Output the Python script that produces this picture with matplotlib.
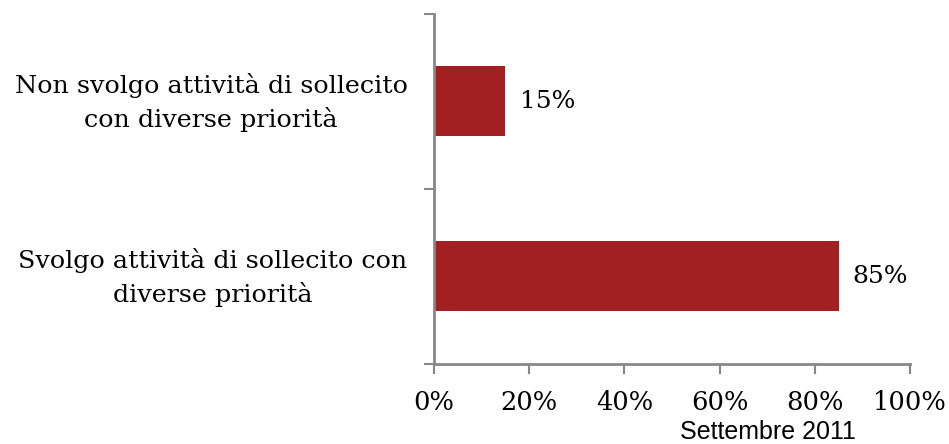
import matplotlib.pyplot as plt
import matplotlib.transforms as mtransforms
from matplotlib.ticker import FixedLocator, PercentFormatter

categories = ["Non svolgo attività di sollecito\ncon diverse priorità",
              "Svolgo attività di sollecito con\ndiverse priorità"]
values = [15, 85]
xticks = [0, 20, 40, 60, 80, 100]
note = "Settembre 2011"

bar_color = "#A21F22"
axis_color = "#878787"

fig = plt.figure(figsize=(9.49, 4.44), dpi=100)
ax = fig.add_axes([0.4573, 0.1802, 0.5016, 0.7883])

pos = list(range(len(categories)))
bars = ax.barh(pos, values, height=0.4, color=bar_color, edgecolor="none")
ax.set_ylim(len(categories) - 0.5, -0.5)
ax.set_xlim(0, 100)

for y, v in zip(pos, values):
    ax.text(v + 3, y, f"{v}%", va="center", ha="left",
            family="DejaVu Serif", fontsize=18, color="black")

# category labels at centres, tick marks at the boundaries
ax.set_yticks(pos)
ax.set_yticklabels(categories, family="DejaVu Serif", fontsize=18.3,
                   multialignment="center", linespacing=1.45)
ax.tick_params(axis="y", which="major", length=0, pad=19)
lift = mtransforms.ScaledTranslation(0, 4 / 72, fig.dpi_scale_trans)
for lab in ax.get_yticklabels():
    lab.set_transform(lab.get_transform() + lift)
ax.yaxis.set_minor_locator(FixedLocator([-0.5, 0.5, 1.5]))
ax.tick_params(axis="y", which="minor", length=7, width=1.5, color=axis_color)

ax.set_xticks(xticks)
ax.xaxis.set_major_formatter(PercentFormatter(decimals=0))
ax.tick_params(axis="x", length=7, width=1.5, color=axis_color, pad=12,
               labelsize=18.5)
for lab in ax.get_xticklabels():
    lab.set_family("DejaVu Serif")

for side in ["top", "right"]:
    ax.spines[side].set_visible(False)
for side in ["left", "bottom"]:
    ax.spines[side].set_color(axis_color)
    ax.spines[side].set_linewidth(2)

fig.text(0.809, 0.0, note, ha="center", va="bottom",
         family="Liberation Sans", fontsize=18)

fig.savefig("out.png", dpi=100)
